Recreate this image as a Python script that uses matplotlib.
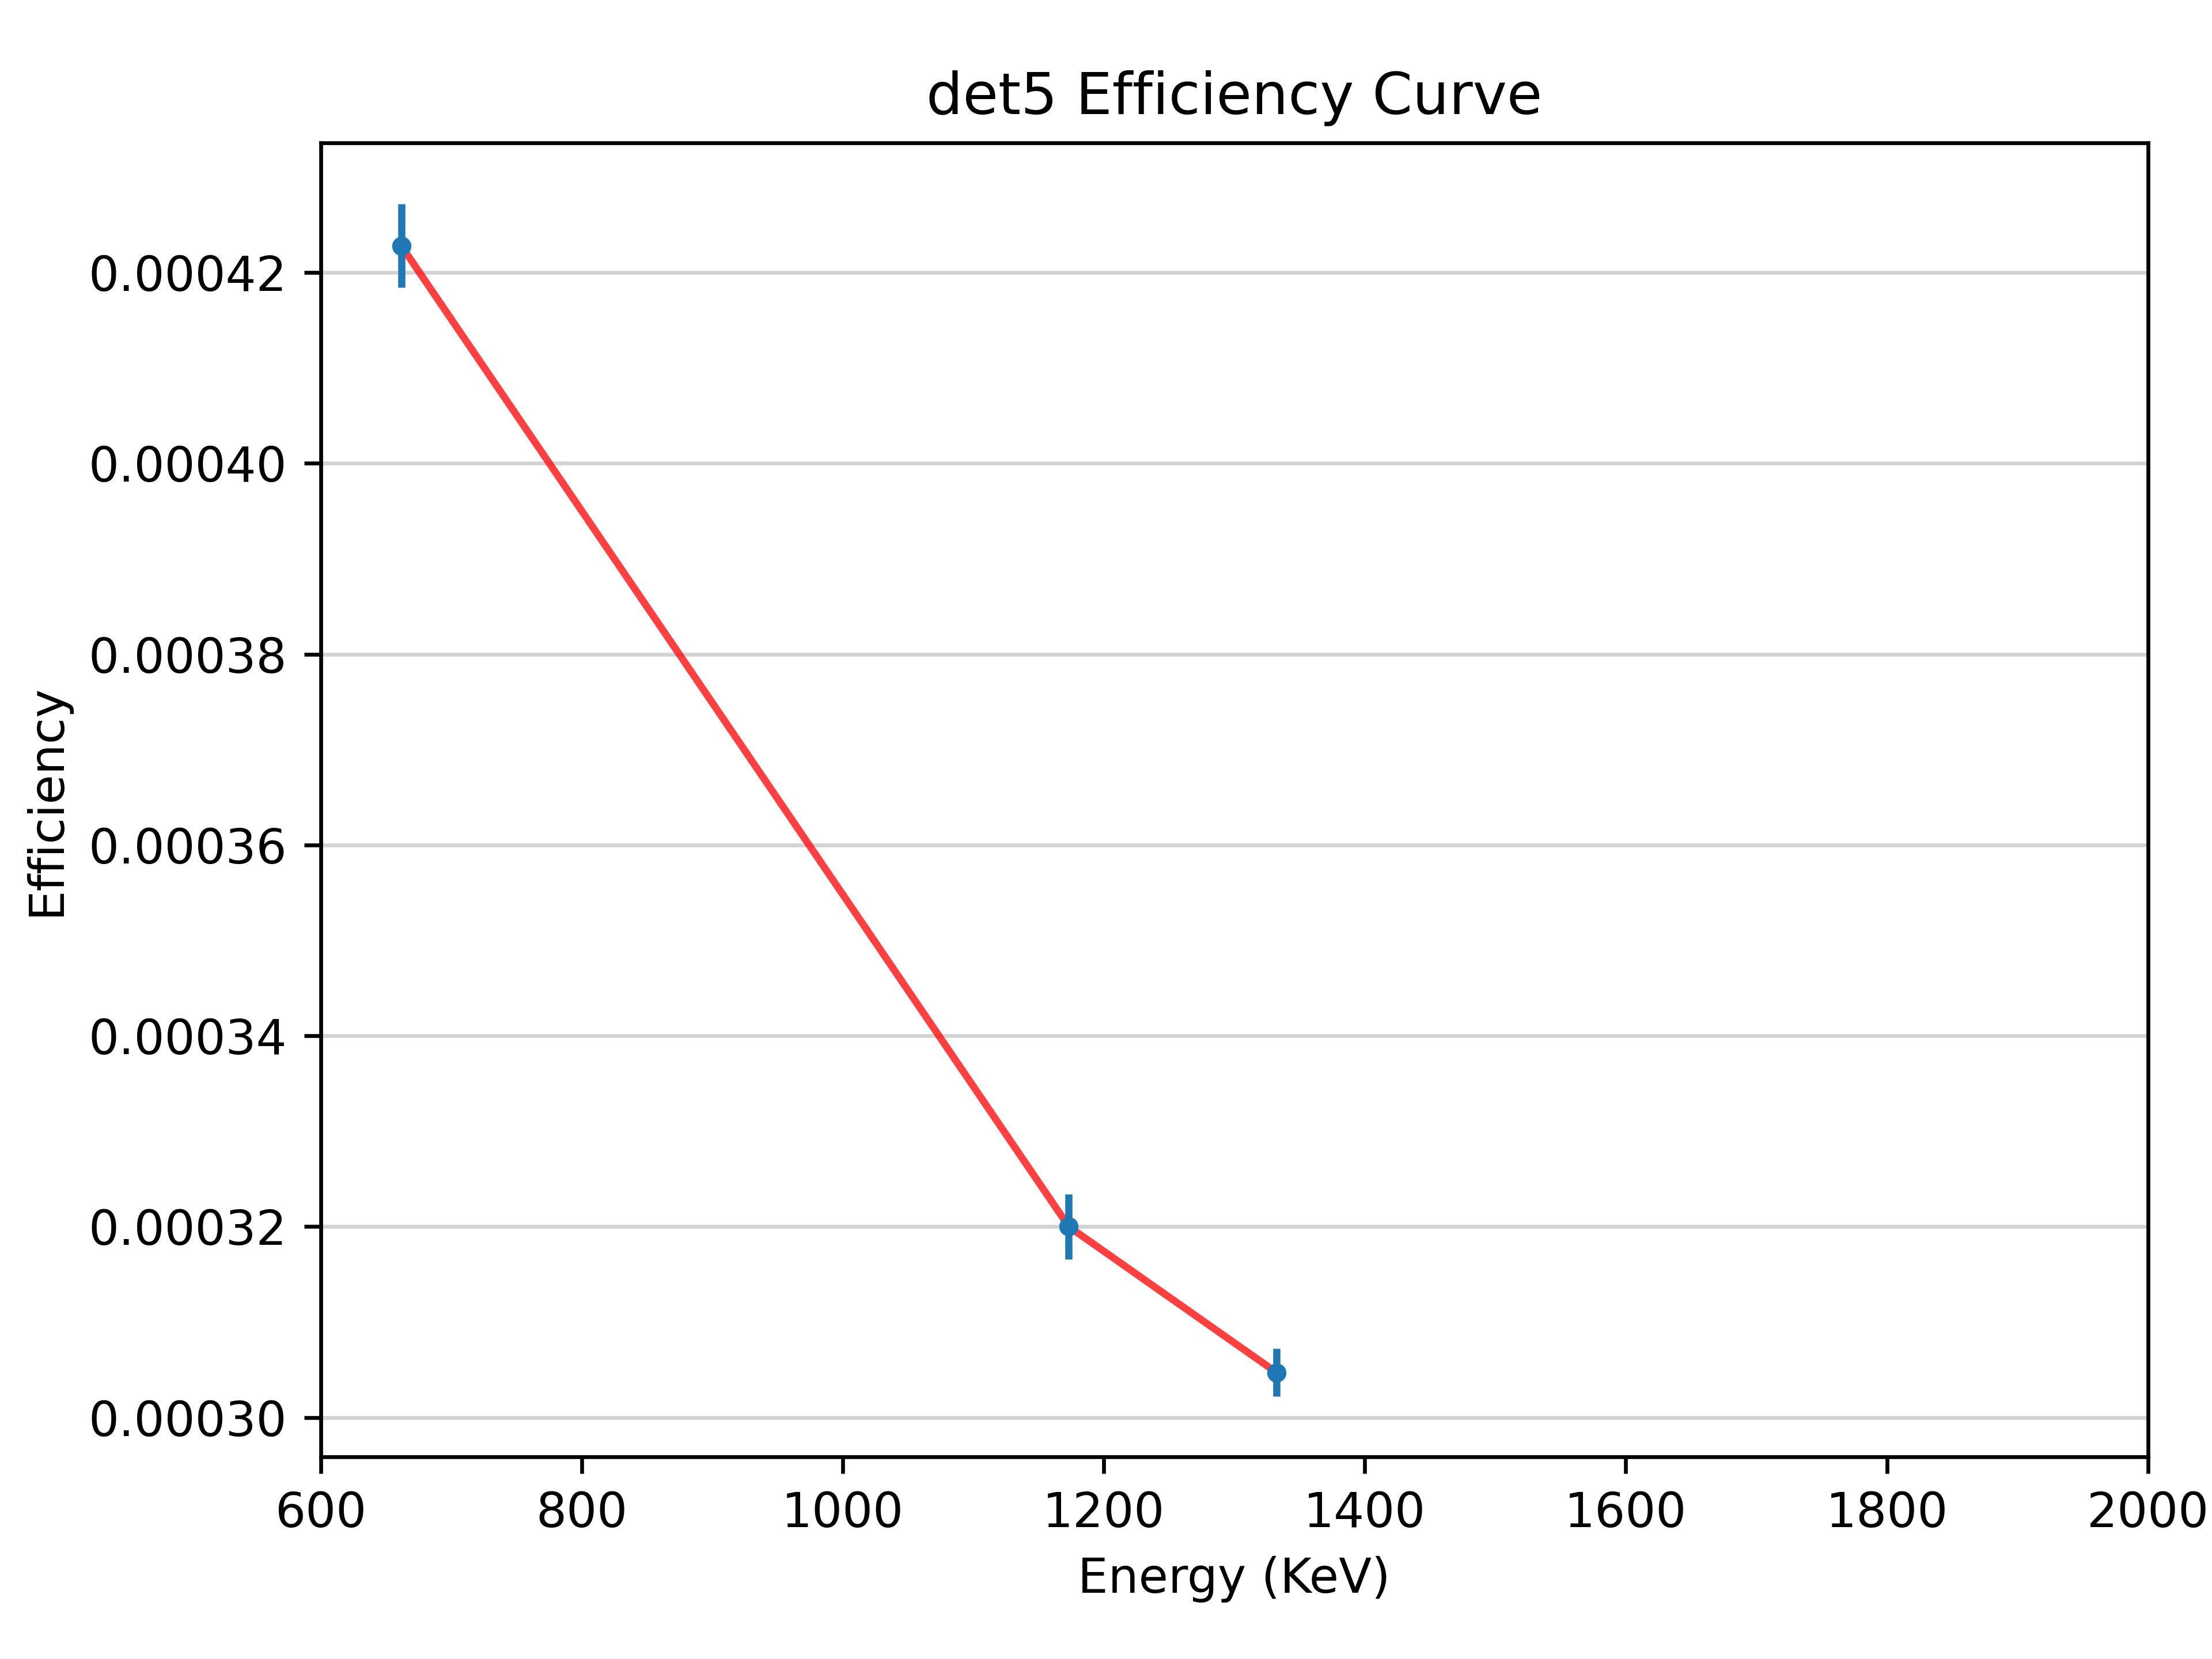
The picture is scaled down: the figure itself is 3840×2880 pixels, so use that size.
import matplotlib

matplotlib.use("Agg")
import matplotlib.pyplot as plt

energy = [661.7, 1173.2, 1332.5]
efficiency = [0.0004228, 0.0003200, 0.0003047]
eff_err = [0.0000044, 0.0000034, 0.0000025]

fig, ax = plt.subplots(figsize=(6.4, 4.8))
fig.subplots_adjust(left=0.145, right=0.971, top=0.914, bottom=0.122)
ax.plot(energy, efficiency, color="red", alpha=0.75, linewidth=1.5, zorder=2)
ax.errorbar(energy, efficiency, yerr=eff_err, fmt=".", color="C0", zorder=3)
ax.grid(axis="y", color="lightgray")
ax.set_axisbelow(True)
ax.set_xlim(600, 2000)
ax.set_ylim(0.0002959, 0.0004336)
ax.set_xlabel("Energy (KeV)")
ax.set_ylabel("Efficiency")
ax.set_title("det5 Efficiency Curve")
fig.savefig("out.png", dpi=600)
